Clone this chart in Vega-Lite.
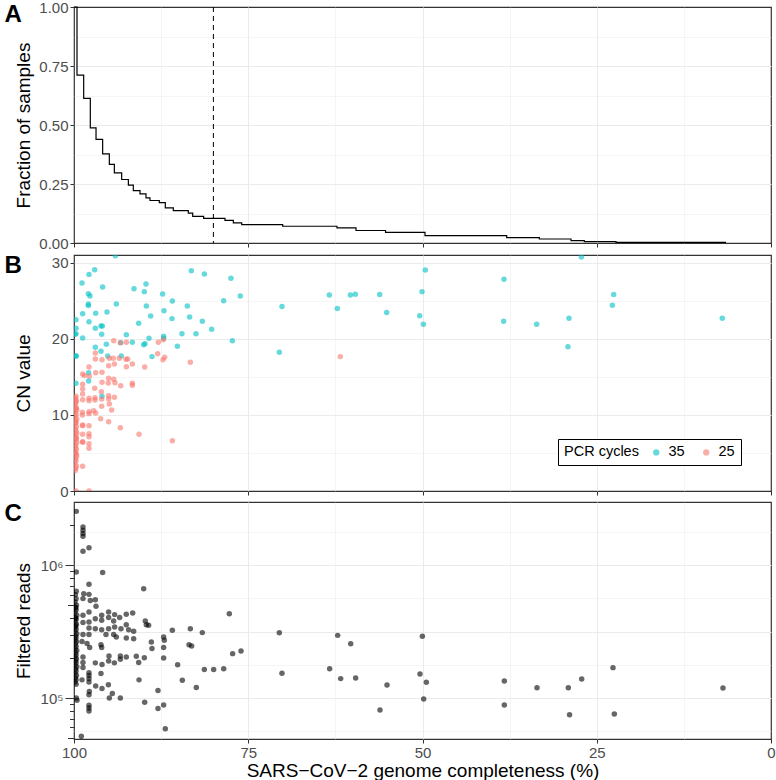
{
"$schema": "https://vega.github.io/schema/vega-lite/v6.json",
"padding": {"left": 3, "top": -1, "right": 5, "bottom": 0},
"background": "white",
"config": {
  "font": "Liberation Sans",
  "view": {"stroke": "#333333", "strokeWidth": 1.2},
  "axis": {"domain": false, "tickColor": "#333333", "labelColor": "#4D4D4D", "labelFontSize": 15, "titleFontSize": 19, "titleColor": "black", "titleFontWeight": "normal", "gridColor": "#EBEBEB", "labelOverlap": false, "labelPadding": 2}
},
"datasets": {
  "frac": [
    {"x":100,"f":1.0},{"x":99.57,"f":0.711},{"x":98.61,"f":0.613},{"x":97.66,"f":0.488},{"x":96.84,"f":0.439},{"x":95.89,"f":0.378},{"x":94.93,"f":0.333},{"x":94.21,"f":0.297},{"x":93.16,"f":0.269},{"x":92.2,"f":0.245},{"x":91.49,"f":0.222},{"x":90.53,"f":0.208},{"x":89.67,"f":0.191},{"x":89.1,"f":0.18},{"x":87.76,"f":0.171},{"x":86.9,"f":0.149},{"x":85.75,"f":0.137},{"x":83.6,"f":0.127},{"x":82.97,"f":0.113},{"x":81.4,"f":0.104},{"x":78.34,"f":0.096},{"x":77.14,"f":0.085},{"x":75.94,"f":0.078},{"x":70.06,"f":0.071},{"x":62.27,"f":0.064},{"x":59.54,"f":0.053},{"x":55.3,"f":0.045},{"x":49.64,"f":0.031},{"x":37.92,"f":0.023},{"x":33.24,"f":0.017},{"x":28.69,"f":0.010},{"x":26.78,"f":0.006},{"x":22.24,"f":0.003},{"x":6.46,"f":0.003}
  ],
  "cn": [
    {"x":94.07,"cn":30.96,"pcr":"35"},{"x":97.03,"cn":29.12,"pcr":"35"},{"x":97.85,"cn":28.5,"pcr":"35"},{"x":98.85,"cn":27.37,"pcr":"35"},{"x":95.89,"cn":26.84,"pcr":"35"},{"x":97.94,"cn":25.96,"pcr":"35"},{"x":97.7,"cn":25.66,"pcr":"35"},{"x":99.71,"cn":22.54,"pcr":"35"},{"x":98.76,"cn":23.33,"pcr":"35"},{"x":97.94,"cn":24.61,"pcr":"35"},{"x":97.94,"cn":24.39,"pcr":"35"},{"x":96.89,"cn":23.38,"pcr":"35"},{"x":97.85,"cn":22.28,"pcr":"35"},{"x":93.93,"cn":24.61,"pcr":"35"},{"x":95.27,"cn":23.55,"pcr":"35"},{"x":96.94,"cn":21.4,"pcr":"35"},{"x":96.13,"cn":21.71,"pcr":"35"},{"x":95.94,"cn":21.71,"pcr":"35"},{"x":96.03,"cn":20.61,"pcr":"35"},{"x":99.71,"cn":21.4,"pcr":"35"},{"x":99.86,"cn":20.61,"pcr":"35"},{"x":99.71,"cn":20.7,"pcr":"35"},{"x":98.76,"cn":20.13,"pcr":"35"},{"x":96.94,"cn":18.9,"pcr":"35"},{"x":95.36,"cn":19.3,"pcr":"35"},{"x":96.13,"cn":18.38,"pcr":"35"},{"x":95.17,"cn":17.76,"pcr":"35"},{"x":93.21,"cn":17.76,"pcr":"35"},{"x":99.76,"cn":17.76,"pcr":"35"},{"x":99.67,"cn":17.76,"pcr":"35"},{"x":92.49,"cn":20.57,"pcr":"35"},{"x":93.3,"cn":19.52,"pcr":"35"},{"x":91.63,"cn":19.56,"pcr":"35"},{"x":90.0,"cn":19.25,"pcr":"35"},{"x":89.81,"cn":19.39,"pcr":"35"},{"x":89.24,"cn":20.09,"pcr":"35"},{"x":88.81,"cn":17.68,"pcr":"35"},{"x":87.14,"cn":20.35,"pcr":"35"},{"x":87.14,"cn":20.09,"pcr":"35"},{"x":85.17,"cn":19.04,"pcr":"35"},{"x":90.72,"cn":22.06,"pcr":"35"},{"x":89.0,"cn":23.03,"pcr":"35"},{"x":89.62,"cn":24.34,"pcr":"35"},{"x":91.39,"cn":26.62,"pcr":"35"},{"x":89.91,"cn":26.23,"pcr":"35"},{"x":89.67,"cn":27.24,"pcr":"35"},{"x":87.28,"cn":25.92,"pcr":"35"},{"x":87.09,"cn":23.73,"pcr":"35"},{"x":85.89,"cn":25.0,"pcr":"35"},{"x":85.94,"cn":22.68,"pcr":"35"},{"x":84.51,"cn":20.7,"pcr":"35"},{"x":83.74,"cn":24.34,"pcr":"35"},{"x":83.41,"cn":22.89,"pcr":"35"},{"x":82.5,"cn":20.7,"pcr":"35"},{"x":83.17,"cn":28.99,"pcr":"35"},{"x":81.3,"cn":28.55,"pcr":"35"},{"x":81.59,"cn":22.32,"pcr":"35"},{"x":80.25,"cn":21.27,"pcr":"35"},{"x":78.53,"cn":25.04,"pcr":"35"},{"x":77.48,"cn":27.98,"pcr":"35"},{"x":76.14,"cn":25.66,"pcr":"35"},{"x":77.28,"cn":19.78,"pcr":"35"},{"x":99.71,"cn":14.17,"pcr":"35"},{"x":97.9,"cn":15.57,"pcr":"35"},{"x":97.9,"cn":14.47,"pcr":"35"},{"x":95.98,"cn":12.46,"pcr":"35"},
    {"x":70.16,"cn":24.26,"pcr":"35"},{"x":70.54,"cn":18.25,"pcr":"35"},{"x":63.37,"cn":25.79,"pcr":"35"},{"x":62.22,"cn":24.0,"pcr":"35"},{"x":60.35,"cn":25.79,"pcr":"35"},{"x":59.64,"cn":25.88,"pcr":"35"},{"x":56.14,"cn":25.84,"pcr":"35"},{"x":55.14,"cn":23.47,"pcr":"35"},{"x":50.07,"cn":26.23,"pcr":"35"},{"x":49.6,"cn":29.08,"pcr":"35"},{"x":50.4,"cn":23.07,"pcr":"35"},{"x":49.88,"cn":21.93,"pcr":"35"},{"x":38.31,"cn":27.86,"pcr":"35"},{"x":38.36,"cn":22.33,"pcr":"35"},{"x":33.62,"cn":21.93,"pcr":"35"},{"x":28.98,"cn":22.72,"pcr":"35"},{"x":29.13,"cn":18.99,"pcr":"35"},{"x":27.21,"cn":30.8,"pcr":"35"},{"x":22.57,"cn":25.84,"pcr":"35"},{"x":22.76,"cn":24.43,"pcr":"35"},{"x":6.99,"cn":22.72,"pcr":"35"},
    {"x":94.3,"cn":19.78,"pcr":"25"},{"x":93.35,"cn":19.52,"pcr":"25"},{"x":92.49,"cn":19.56,"pcr":"25"},{"x":87.9,"cn":19.56,"pcr":"25"},{"x":87.18,"cn":19.91,"pcr":"25"},{"x":88.0,"cn":18.07,"pcr":"25"},{"x":86.99,"cn":17.59,"pcr":"25"},{"x":87.23,"cn":17.28,"pcr":"25"},{"x":83.31,"cn":16.93,"pcr":"25"},{"x":96.94,"cn":18.16,"pcr":"25"},{"x":96.94,"cn":17.37,"pcr":"25"},{"x":95.98,"cn":17.28,"pcr":"25"},{"x":94.93,"cn":17.46,"pcr":"25"},{"x":94.36,"cn":17.46,"pcr":"25"},{"x":93.5,"cn":17.46,"pcr":"25"},{"x":92.54,"cn":17.32,"pcr":"25"},{"x":92.3,"cn":17.37,"pcr":"25"},{"x":94.21,"cn":16.71,"pcr":"25"},{"x":92.49,"cn":16.36,"pcr":"25"},{"x":91.63,"cn":16.71,"pcr":"25"},{"x":89.86,"cn":16.32,"pcr":"25"},{"x":97.85,"cn":16.32,"pcr":"25"},{"x":95.03,"cn":16.49,"pcr":"25"},{"x":98.76,"cn":15.39,"pcr":"25"},{"x":98.52,"cn":15.18,"pcr":"25"},{"x":97.8,"cn":15.09,"pcr":"25"},{"x":96.89,"cn":15.57,"pcr":"25"},{"x":95.98,"cn":15.61,"pcr":"25"},{"x":95.98,"cn":14.3,"pcr":"25"},{"x":95.03,"cn":14.82,"pcr":"25"},{"x":94.31,"cn":14.69,"pcr":"25"},{"x":94.12,"cn":14.25,"pcr":"25"},{"x":95.08,"cn":14.21,"pcr":"25"},{"x":93.3,"cn":13.86,"pcr":"25"},{"x":91.63,"cn":14.17,"pcr":"25"},{"x":91.63,"cn":13.9,"pcr":"25"},{"x":98.76,"cn":14.04,"pcr":"25"},{"x":98.76,"cn":13.42,"pcr":"25"},{"x":99.71,"cn":12.46,"pcr":"25"},{"x":99.71,"cn":11.67,"pcr":"25"},{"x":98.76,"cn":12.76,"pcr":"25"},{"x":98.76,"cn":12.02,"pcr":"25"},{"x":97.85,"cn":12.19,"pcr":"25"},{"x":97.85,"cn":11.89,"pcr":"25"},{"x":97.03,"cn":13.51,"pcr":"25"},{"x":96.99,"cn":12.28,"pcr":"25"},{"x":96.99,"cn":11.97,"pcr":"25"},{"x":96.08,"cn":13.07,"pcr":"25"},{"x":96.03,"cn":12.1,"pcr":"25"},{"x":96.03,"cn":11.14,"pcr":"25"},{"x":95.03,"cn":12.54,"pcr":"25"},{"x":95.03,"cn":12.1,"pcr":"25"},{"x":94.93,"cn":11.45,"pcr":"25"},{"x":94.21,"cn":12.32,"pcr":"25"},{"x":94.6,"cn":10.66,"pcr":"25"},{"x":98.8,"cn":10.35,"pcr":"25"},{"x":98.8,"cn":10.0,"pcr":"25"},{"x":97.85,"cn":10.44,"pcr":"25"},{"x":97.85,"cn":10.18,"pcr":"25"},{"x":97.18,"cn":10.57,"pcr":"25"},{"x":96.89,"cn":10.26,"pcr":"25"},{"x":96.17,"cn":9.52,"pcr":"25"},{"x":95.03,"cn":9.12,"pcr":"25"},{"x":93.35,"cn":8.33,"pcr":"25"},{"x":90.67,"cn":7.46,"pcr":"25"},{"x":85.89,"cn":6.62,"pcr":"25"},{"x":98.76,"cn":8.68,"pcr":"25"},{"x":98.76,"cn":8.6,"pcr":"25"},{"x":97.85,"cn":8.6,"pcr":"25"},{"x":97.85,"cn":7.54,"pcr":"25"},{"x":97.85,"cn":7.15,"pcr":"25"},{"x":98.76,"cn":7.46,"pcr":"25"},{"x":98.76,"cn":6.4,"pcr":"25"},{"x":98.76,"cn":6.49,"pcr":"25"},{"x":97.85,"cn":6.23,"pcr":"25"},{"x":97.85,"cn":5.61,"pcr":"25"},{"x":98.76,"cn":3.25,"pcr":"25"},{"x":97.85,"cn":0,"pcr":"25"},{"x":99.71,"cn":0,"pcr":"25"},{"x":61.79,"cn":17.68,"pcr":"25"},
    {"x":99.8,"cn":12.2,"pcr":"25"},{"x":99.65,"cn":11.9,"pcr":"25"},{"x":99.85,"cn":11.4,"pcr":"25"},{"x":99.7,"cn":11.0,"pcr":"25"},{"x":99.6,"cn":10.7,"pcr":"25"},{"x":99.8,"cn":10.4,"pcr":"25"},{"x":99.7,"cn":10.1,"pcr":"25"},{"x":99.85,"cn":9.8,"pcr":"25"},{"x":99.6,"cn":9.5,"pcr":"25"},{"x":99.75,"cn":9.2,"pcr":"25"},{"x":99.8,"cn":8.9,"pcr":"25"},{"x":99.65,"cn":8.5,"pcr":"25"},{"x":99.85,"cn":8.2,"pcr":"25"},{"x":99.7,"cn":7.9,"pcr":"25"},{"x":99.6,"cn":7.6,"pcr":"25"},{"x":99.8,"cn":7.3,"pcr":"25"},{"x":99.7,"cn":7.0,"pcr":"25"},{"x":99.85,"cn":6.7,"pcr":"25"},{"x":99.6,"cn":6.4,"pcr":"25"},{"x":99.75,"cn":6.1,"pcr":"25"},{"x":99.8,"cn":5.8,"pcr":"25"},{"x":99.65,"cn":5.5,"pcr":"25"},{"x":99.85,"cn":5.2,"pcr":"25"},{"x":99.7,"cn":4.9,"pcr":"25"},{"x":99.6,"cn":4.6,"pcr":"25"},{"x":99.8,"cn":4.3,"pcr":"25"},{"x":99.7,"cn":4.0,"pcr":"25"},{"x":99.85,"cn":3.7,"pcr":"25"},{"x":99.65,"cn":3.3,"pcr":"25"},{"x":99.75,"cn":3.0,"pcr":"25"},{"x":99.8,"cn":2.7,"pcr":"25"},{"x":99.7,"cn":9.0,"pcr":"25"},{"x":99.75,"cn":10.9,"pcr":"25"},{"x":99.65,"cn":6.9,"pcr":"25"},{"x":99.8,"cn":5.0,"pcr":"25"}
  ],
  "reads": [
    {"x":99.67,"r":2550000},{"x":98.71,"r":1945000},{"x":98.71,"r":1837000},{"x":98.71,"r":1734000},{"x":98.71,"r":1656000},{"x":98.71,"r":1274000},{"x":97.85,"r":1358000},{"x":99.67,"r":891000},{"x":95.89,"r":881000},{"x":97.85,"r":719000},{"x":90.0,"r":667000},{"x":99.67,"r":637000},{"x":98.6,"r":611000},{"x":97.85,"r":604000},{"x":96.94,"r":551000},{"x":98.71,"r":561000},{"x":97.66,"r":542000},{"x":96.84,"r":491000},{"x":97.85,"r":445000},{"x":95.03,"r":445000},{"x":96.03,"r":420000},{"x":94.17,"r":425000},{"x":93.45,"r":404000},{"x":92.5,"r":428000},{"x":91.58,"r":438000},{"x":96.94,"r":396000},{"x":96.03,"r":385000},{"x":95.03,"r":404000},{"x":94.31,"r":381000},{"x":89.77,"r":381000},{"x":89.62,"r":357000},{"x":89.29,"r":353000},{"x":92.5,"r":357000},{"x":98.71,"r":420000},{"x":98.71,"r":370000},{"x":97.85,"r":374000},{"x":97.85,"r":337000},{"x":96.94,"r":333000},{"x":96.03,"r":327000},{"x":95.03,"r":333000},{"x":94.17,"r":343000},{"x":93.26,"r":333000},{"x":92.16,"r":327000},{"x":91.44,"r":318000},{"x":85.89,"r":324000},{"x":83.31,"r":333000},{"x":81.59,"r":311000},{"x":98.71,"r":301000},{"x":97.85,"r":301000},{"x":95.41,"r":301000},{"x":94.31,"r":301000},{"x":93.93,"r":288000},{"x":92.5,"r":283000},{"x":91.44,"r":280000},{"x":98.85,"r":267000},{"x":98.13,"r":257000},{"x":97.75,"r":240000},{"x":96.13,"r":252000},{"x":96.03,"r":240000},{"x":88.9,"r":264000},{"x":88.81,"r":236000},{"x":87.14,"r":288000},{"x":87.04,"r":272000},{"x":87.14,"r":240000},{"x":83.5,"r":252000},{"x":83.12,"r":247000},{"x":94.98,"r":207000},{"x":93.35,"r":207000},{"x":92.5,"r":204000},{"x":91.06,"r":206000},{"x":93.35,"r":196000},{"x":95.03,"r":190000},{"x":94.21,"r":184000},{"x":89.91,"r":201000},{"x":87.14,"r":200000},{"x":90.72,"r":185000},{"x":96.94,"r":184000},{"x":95.98,"r":179000},{"x":98.71,"r":204000},{"x":98.71,"r":185000},{"x":98.71,"r":170000},{"x":97.85,"r":155000},{"x":97.85,"r":148000},{"x":97.85,"r":140000},{"x":96.13,"r":153000},{"x":85.13,"r":178000},{"x":81.3,"r":164000},{"x":98.85,"r":137000},{"x":97.85,"r":132000},{"x":96.89,"r":123000},{"x":95.98,"r":118000},{"x":95.07,"r":126000},{"x":90.67,"r":137000},{"x":84.46,"r":136000},{"x":82.45,"r":120000},{"x":97.8,"r":112000},{"x":97.85,"r":106000},{"x":94.5,"r":108000},{"x":94.93,"r":100000},{"x":93.35,"r":100000},{"x":99.67,"r":100000},{"x":99.57,"r":96200},{"x":97.85,"r":88100},{"x":97.85,"r":84100},{"x":97.85,"r":79800},{"x":89.86,"r":92900},{"x":87.95,"r":114000},{"x":87.95,"r":83200},{"x":87.14,"r":88700},{"x":86.9,"r":58700},{"x":98.95,"r":51400},
    {"x":77.72,"r":432000},{"x":77.24,"r":216000},{"x":76.04,"r":226000},{"x":78.52,"r":166000},{"x":79.96,"r":164000},
    {"x":70.54,"r":310000},{"x":70.16,"r":153500},{"x":63.32,"r":166300},{"x":62.17,"r":296500},{"x":61.74,"r":140000},{"x":60.3,"r":256500},{"x":59.59,"r":141500},{"x":56.1,"r":81300},{"x":55.09,"r":125400},{"x":50.02,"r":291600},{"x":50.36,"r":151700},{"x":49.45,"r":131300},{"x":49.83,"r":98200},{"x":38.26,"r":134300},{"x":38.26,"r":88500},{"x":33.57,"r":119700},{"x":29.08,"r":119700},{"x":28.9,"r":74900},{"x":27.16,"r":139000},{"x":22.67,"r":169400},{"x":22.48,"r":75700},{"x":6.89,"r":118900},
    {"x":99.8,"r":600000},{"x":99.7,"r":560000},{"x":99.85,"r":530000},{"x":99.65,"r":500000},{"x":99.8,"r":480000},{"x":99.7,"r":460000},{"x":99.85,"r":440000},{"x":99.6,"r":420000},{"x":99.8,"r":405000},{"x":99.7,"r":390000},{"x":99.85,"r":375000},{"x":99.65,"r":360000},{"x":99.8,"r":345000},{"x":99.7,"r":330000},{"x":99.85,"r":318000},{"x":99.6,"r":305000},{"x":99.8,"r":295000},{"x":99.7,"r":285000},{"x":99.85,"r":275000},{"x":99.65,"r":265000},{"x":99.8,"r":255000},{"x":99.7,"r":245000},{"x":99.85,"r":236000},{"x":99.6,"r":228000},{"x":99.8,"r":220000},{"x":99.7,"r":212000},{"x":99.85,"r":205000},{"x":99.65,"r":198000},{"x":99.8,"r":191000},{"x":99.7,"r":185000},{"x":99.85,"r":178000},{"x":99.6,"r":172000},{"x":99.8,"r":166000},{"x":99.7,"r":160000},{"x":99.85,"r":154000},{"x":99.65,"r":148000},{"x":99.8,"r":142000},{"x":99.7,"r":137000},{"x":99.85,"r":132000},{"x":99.7,"r":127000},{"x":99.75,"r":480000},{"x":99.75,"r":400000},{"x":99.75,"r":350000}
  ]
},
"vconcat": [
  {
    "width": 697, "height": 236,
    "view": {"stroke": "#333333", "strokeWidth": 1.2},
    "resolve": {"axis": {"x": "independent"}},
    "layer": [
      {
        "data": {"name": "frac"},
        "mark": {"type": "line", "interpolate": "step-after", "color": "black", "strokeWidth": 1.2},
        "encoding": {
          "x": {"field": "x", "type": "quantitative", "scale": {"domain": [0, 100], "reverse": true, "nice": false},
            "axis": {"values": [0,12.5,25,37.5,50,62.5,75,87.5,100], "labels": false, "title": null,
              "tickSize": {"condition": {"test": "datum.value % 25 === 0", "value": 4}, "value": 0},
              "gridOpacity": {"condition": {"test": "datum.value === 0 || datum.value === 100", "value": 0}, "value": 1},
              "gridWidth": {"condition": {"test": "datum.value % 25 === 0", "value": 1}, "value": 0.5}}},
          "y": {"field": "f", "type": "quantitative", "scale": {"domain": [0, 1], "nice": false},
            "axis": {"values": [0,0.125,0.25,0.375,0.5,0.625,0.75,0.875,1], "format": ".2f",
              "labelExpr": "(datum.value*100) % 25 === 0 ? datum.label : ''",
              "tickSize": {"condition": {"test": "(datum.value*100) % 25 === 0", "value": 4}, "value": 0},
              "gridOpacity": {"condition": {"test": "datum.value === 0 || datum.value === 1", "value": 0}, "value": 1},
              "gridWidth": {"condition": {"test": "(datum.value*100) % 25 === 0", "value": 1}, "value": 0.5},
              "title": "Fraction of samples", "titleX": -45, "titleBaseline": "alphabetic"}},
          "order": {"field": "x", "sort": "descending"}
        }
      },
      {
        "data": {"values": [{"cut": 80}]},
        "mark": {"type": "rule", "strokeDash": [5, 4], "color": "black", "strokeWidth": 1},
        "encoding": {"x": {"field": "cut", "type": "quantitative", "axis": null}}
      },
      {
        "data": {"values": []},
        "mark": {"type": "point", "opacity": 0},
        "encoding": {"x": {"field": "cut", "type": "quantitative",
          "axis": {"orient": "top", "title": "A", "titleAngle": 0, "titleX": -70, "titleY": 14, "titleAlign": "left", "titleBaseline": "alphabetic", "titleFontSize": 24, "titleFontWeight": "bold", "titleColor": "black", "labels": false, "ticks": false, "grid": false, "domain": false}}}
      }
    ]
  },
  {
    "width": 697, "height": 236,
    "view": {"stroke": "#333333", "strokeWidth": 1.2},
    "resolve": {"axis": {"x": "independent"}},
    "layer": [
      {
        "data": {"name": "cn"},
        "mark": {"type": "circle", "size": 30, "opacity": 0.6, "clip": true},
        "encoding": {
          "x": {"field": "x", "type": "quantitative", "scale": {"domain": [0, 100], "reverse": true, "nice": false},
            "axis": {"values": [0,12.5,25,37.5,50,62.5,75,87.5,100], "labels": false, "title": null,
              "tickSize": {"condition": {"test": "datum.value % 25 === 0", "value": 4}, "value": 0},
              "gridOpacity": {"condition": {"test": "datum.value === 0 || datum.value === 100", "value": 0}, "value": 1},
              "gridWidth": {"condition": {"test": "datum.value % 25 === 0", "value": 1}, "value": 0.5}}},
          "y": {"field": "cn", "type": "quantitative", "scale": {"domain": [0, 31.05], "nice": false},
            "axis": {"values": [0,5,10,15,20,25,30],
              "labelExpr": "datum.value % 10 === 0 ? datum.label : ''",
              "tickSize": {"condition": {"test": "datum.value % 10 === 0", "value": 4}, "value": 0},
              "gridOpacity": {"condition": {"test": "datum.value === 0", "value": 0}, "value": 1},
              "gridWidth": {"condition": {"test": "datum.value % 10 === 0", "value": 1}, "value": 0.5},
              "title": "CN value", "titleX": -45, "titleBaseline": "alphabetic"}},
          "color": {"field": "pcr", "type": "nominal", "scale": {"domain": ["35", "25"], "range": ["#00BFC4", "#F8766D"]},
            "legend": {"title": "PCR cycles", "orient": "none", "legendX": 484, "legendY": 184, "direction": "horizontal",
              "titleOrient": "left", "strokeColor": "black", "fillColor": "white", "padding": 6,
              "titleFontSize": 14.5, "labelFontSize": 14.5, "titleColor": "black", "labelColor": "black", "titleFontWeight": "normal",
              "symbolType": "circle", "symbolSize": 40, "symbolOpacity": 0.6, "symbolStrokeWidth": 0, "columnPadding": 14, "labelOffset": 5, "titlePadding": 10}}
        }
      },
      {
        "data": {"values": []},
        "mark": {"type": "point", "opacity": 0},
        "encoding": {"x": {"field": "x", "type": "quantitative",
          "axis": {"orient": "top", "title": "B", "titleAngle": 0, "titleX": -70, "titleY": 17, "titleAlign": "left", "titleBaseline": "alphabetic", "titleFontSize": 24, "titleFontWeight": "bold", "titleColor": "black", "labels": false, "ticks": false, "grid": false, "domain": false}}}
      }
    ]
  },
  {
    "width": 697, "height": 237,
    "view": {"stroke": "#333333", "strokeWidth": 1.2},
    "resolve": {"axis": {"x": "independent"}},
    "layer": [
      {
        "data": {"name": "reads"},
        "mark": {"type": "circle", "size": 30, "color": "black", "opacity": 0.6, "clip": true},
        "encoding": {
          "x": {"field": "x", "type": "quantitative", "scale": {"domain": [0, 100], "reverse": true, "nice": false},
            "axis": {"values": [0,12.5,25,37.5,50,62.5,75,87.5,100], "labelFlush": false,
              "labelExpr": "datum.value % 25 === 0 ? datum.label : ''",
              "tickSize": {"condition": {"test": "datum.value % 25 === 0", "value": 4}, "value": 0},
              "gridOpacity": {"condition": {"test": "datum.value === 0 || datum.value === 100", "value": 0}, "value": 1},
              "gridWidth": {"condition": {"test": "datum.value % 25 === 0", "value": 1}, "value": 0.5},
              "title": "SARS−CoV−2 genome completeness (%)", "titlePadding": 1}},
          "y": {"field": "r", "type": "quantitative", "scale": {"type": "log", "domain": [49100, 3000000], "nice": false},
            "axis": {"values": [50000,56234,60000,70000,80000,90000,100000,177828,200000,300000,316228,400000,500000,562341,600000,700000,800000,900000,1000000,1778279,2000000],
              "labelExpr": "datum.value === 100000 ? '10⁵' : (datum.value === 1000000 ? '10⁶' : '')",
              "tickSize": {"condition": [
                  {"test": "datum.value === 100000 || datum.value === 1000000", "value": 9},
                  {"test": "datum.value === 50000 || datum.value === 500000", "value": 6.5},
                  {"test": "indexof([56234,177828,316228,562341,1778279], datum.value) >= 0", "value": 0}
                ], "value": 4.5},
              "gridOpacity": {"condition": {"test": "indexof([56234,100000,177828,316228,562341,1000000,1778279], datum.value) >= 0", "value": 1}, "value": 0},
              "gridWidth": {"condition": {"test": "indexof([100000,316228,1000000], datum.value) >= 0", "value": 1}, "value": 0.5},
              "title": "Filtered reads", "titleX": -45, "titleBaseline": "alphabetic"}}
        }
      },
      {
        "data": {"values": []},
        "mark": {"type": "point", "opacity": 0},
        "encoding": {"x": {"field": "x", "type": "quantitative",
          "axis": {"orient": "top", "title": "C", "titleAngle": 0, "titleX": -70, "titleY": 18, "titleAlign": "left", "titleBaseline": "alphabetic", "titleFontSize": 24, "titleFontWeight": "bold", "titleColor": "black", "labels": false, "ticks": false, "grid": false, "domain": false}}}
      }
    ]
  }
],
"spacing": 0,
"resolve": {"legend": {"color": "independent"}}
}
